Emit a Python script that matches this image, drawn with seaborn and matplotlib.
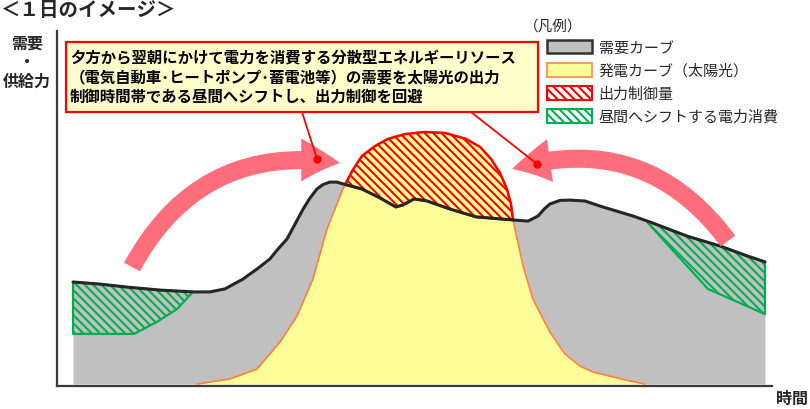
import numpy as np
import matplotlib
matplotlib.use("Agg")
import matplotlib.pyplot as plt
import seaborn as sns
from matplotlib.patches import Patch, Rectangle, FancyArrowPatch
from matplotlib.lines import Line2D

# ---------------- data (hour of day, relative power) ----------------
demand_hour = [0.00, 0.94, 1.87, 3.02, 4.16, 4.75, 5.27, 5.90, 6.14, 6.38, 6.83, 7.11,
               7.42, 7.70, 7.98, 8.22, 8.46, 8.67, 8.91, 9.16, 9.36, 10.02, 10.65, 11.20,
               11.45, 11.83, 12.28, 13.08, 13.98, 15.23, 15.78, 16.13, 16.34, 16.54,
               16.89, 17.24, 17.76, 18.28, 19.42, 20.01, 21.30, 22.44, 23.38, 24.00]
demand_value = [34.0, 33.3, 32.3, 31.3, 30.7, 30.7, 31.7, 35.0, 36.7, 38.3, 41.7, 45.0,
                48.3, 53.3, 58.3, 62.0, 65.0, 66.5, 67.3, 67.3, 66.7, 65.0, 62.0, 59.0,
                59.7, 61.7, 61.0, 58.3, 55.7, 54.7, 54.3, 56.0, 58.3, 60.0,
                61.2, 61.3, 61.0, 59.3, 56.0, 54.0, 49.3, 46.0, 42.7, 40.7]

solar_hour = [4.30, 5.45, 6.38, 7.18, 7.77, 8.32, 8.81, 9.36, 9.68, 10.02, 10.47, 10.92,
              11.51, 12.17, 12.90, 13.63, 14.12, 14.50, 14.81, 15.05, 15.19, 15.26,
              15.61, 15.95, 16.54, 17.06, 17.58, 18.03, 19.32, 19.84]
solar_value = [0.0, 1.7, 5.0, 14.0, 22.7, 35.0, 51.7, 65.0, 71.0, 76.0, 79.3, 81.7,
               83.3, 84.0, 83.7, 81.7, 79.0, 75.0, 70.3, 65.0, 60.0, 54.7,
               39.3, 28.3, 17.3, 10.0, 6.0, 4.0, 1.0, 0.0]

shift_am_hour = [0.00, 2.12, 2.91, 3.61, 4.16]
shift_am_low = [16.7, 16.7, 20.7, 25.0, 30.7]
shift_pm_hour = [19.94, 22.02, 24.00]
shift_pm_low = [53.7, 31.7, 23.3]

legend_labels = ["需要カーブ", "発電カーブ（太陽光）", "出力制御量", "昼間へシフトする電力消費"]
title_text = "＜１日のイメージ＞"
ylabel_lines = ["需要", "・", "供給力"]
xlabel_text = "時間"
legend_title = "（凡例）"
callout_lines = ["夕方から翌朝にかけて電力を消費する分散型エネルギーリソース",
                 "（電気自動車･ヒートポンプ･蓄電池等）の需要を太陽光の出力",
                 "制御時間帯である昼間へシフトし、出力制御を回避"]

# ---------------- style ----------------
sns.set_theme(style="white")
plt.rcParams['font.family'] = ['Noto Sans CJK JP', 'DejaVu Sans']
plt.rcParams['hatch.linewidth'] = 1.5

GRAY = "#C0C0C0"
YELLOW = "#FFFF99"
ORANGE = "#FF8040"
RED = "#FF0000"
GREEN = "#00B050"
LINE = "#262626"
ARROW = "#FF6E7A"
HATCH = '\\\\\\\\'

W, H = 810, 410
fig = plt.figure(figsize=(W / 100, H / 100), dpi=100)
fx = lambda px: px / W
fy = lambda py: 1 - py / H

ax = fig.add_axes([fx(57), fy(387), fx(772) - fx(57), fy(32) - fy(387)])
ax.set_xlim(-0.555, 24.243)
ax.set_ylim(-0.667, 117.67)

# demand area
ax.fill_between(demand_hour, 0, demand_value, color=GRAY, lw=0, zorder=1)

# shifted consumption (green hatch)
g1 = np.linspace(shift_am_hour[0], shift_am_hour[-1], 200)
ax.fill_between(g1, np.interp(g1, shift_am_hour, shift_am_low),
                np.interp(g1, demand_hour, demand_value),
                facecolor=GRAY, edgecolor=GREEN, hatch=HATCH, lw=1.6, zorder=2)
g2 = np.linspace(shift_pm_hour[0], shift_pm_hour[-1], 200)
ax.fill_between(g2, np.interp(g2, shift_pm_hour, shift_pm_low),
                np.interp(g2, demand_hour, demand_value),
                facecolor=GRAY, edgecolor=GREEN, hatch=HATCH, lw=1.6, zorder=2)

# solar generation
ax.fill_between(solar_hour, 0, solar_value, color=YELLOW, lw=0, zorder=3)
ax.plot(solar_hour, solar_value, color=ORANGE, lw=1.2, zorder=3.5)

# curtailment (red hatch)
g3 = np.linspace(9.0, 15.6, 600)
s3 = np.interp(g3, solar_hour, solar_value)
d3 = np.interp(g3, demand_hour, demand_value)
ax.fill_between(g3, d3, s3, where=s3 >= d3, interpolate=True,
                facecolor=YELLOW, edgecolor=RED, hatch=HATCH, lw=1.8, zorder=4)

# demand line
sns.lineplot(x=demand_hour, y=demand_value, sort=False, color=LINE, lw=2.2,
             ax=ax, zorder=5)

for s in ["top", "right"]:
    ax.spines[s].set_visible(False)
for s in ["left", "bottom"]:
    ax.spines[s].set_color("#3a3a3a")
    ax.spines[s].set_linewidth(1.6)
ax.set_xticks([])
ax.set_yticks([])
ax.set_xlabel("")
ax.set_ylabel("")

# ---------------- arrows ----------------
for (a, b, rad) in [((132, 268), (340, 164), -0.35), ((728, 242), (512, 170), 0.35)]:
    arr = FancyArrowPatch((fx(a[0]), fy(a[1])), (fx(b[0]), fy(b[1])),
                          transform=fig.transFigure,
                          connectionstyle=f"arc3,rad={rad}",
                          arrowstyle="simple,head_length=28,head_width=31,tail_width=13",
                          mutation_scale=1, color=ARROW, lw=0, shrinkA=0, shrinkB=0,
                          zorder=6)
    fig.add_artist(arr)

# ---------------- callout ----------------
fig.add_artist(Rectangle((fx(66), fy(113)), fx(538) - fx(66), fy(43) - fy(113),
                         transform=fig.transFigure, facecolor="#FFFFCC",
                         edgecolor=RED, lw=1.6, zorder=7))
for i, t in enumerate(callout_lines):
    fig.text(fx(70), fy(57 + 20 * i), t, fontsize=11.1, fontweight="bold",
             ha="left", va="center", color="black", zorder=8)
for (p0, p1) in [((302, 113), (317, 160)), ((471, 113), (537, 165))]:
    fig.add_artist(Line2D([fx(p0[0]), fx(p1[0])], [fy(p0[1]), fy(p1[1])],
                          transform=fig.transFigure, color=RED, lw=1.3, zorder=7))
    fig.add_artist(Line2D([fx(p1[0])], [fy(p1[1])], transform=fig.transFigure,
                          marker="o", ms=5, color=RED, lw=0, zorder=7))

# ---------------- texts ----------------
fig.text(fx(0), fy(10), title_text, fontsize=14, fontweight="bold",
         ha="left", va="center")
for t, y in zip(ylabel_lines, [44, 62, 82]):
    fig.text(fx(27), fy(y), t, fontsize=11.5, fontweight="bold", ha="center", va="center")
fig.text(fx(792), fy(399), xlabel_text, fontsize=11.5, fontweight="bold",
         ha="center", va="center")
fig.text(fx(553), fy(27), legend_title, fontsize=10.5, ha="center", va="center")

# ---------------- legend ----------------
handles = [
    Patch(facecolor=GRAY, edgecolor="#333333", lw=1.8),
    Patch(facecolor=YELLOW, edgecolor="#FF9966", lw=1.5),
    Patch(facecolor="white", edgecolor=RED, hatch=HATCH, lw=1.5),
    Patch(facecolor="white", edgecolor=GREEN, hatch=HATCH, lw=1.5),
]
fig.legend(handles, legend_labels, loc="upper left",
           bbox_to_anchor=(fx(547), fy(41)), bbox_transform=fig.transFigure,
           frameon=False, fontsize=10.8, handlelength=3.0, handleheight=1.0,
           handletextpad=0.45, labelspacing=0.55, borderpad=0, borderaxespad=0)

fig.savefig("out.png", dpi=100)
